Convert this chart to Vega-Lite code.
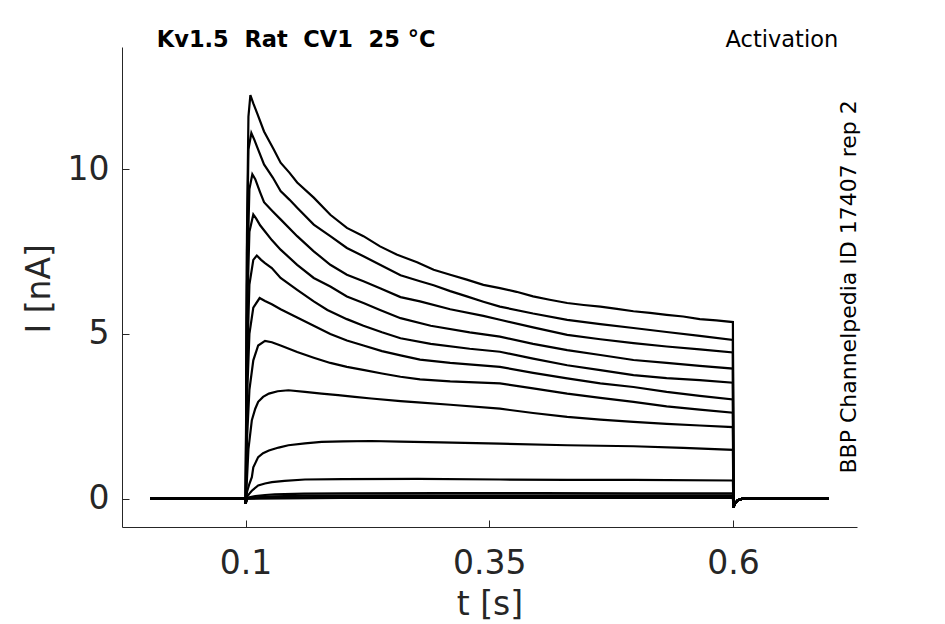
{
  "$schema": "https://vega.github.io/schema/vega-lite/v6.json",
  "width": 735,
  "height": 480,
  "autosize": {"type": "none"},
  "padding": {"left": 122, "top": 47, "right": 88, "bottom": 97},
  "background": "white",
  "config": {"view": {"stroke": null}, "font": "DejaVu Sans"},
  "resolve": {"axis": {"x": "independent", "y": "independent"}},
  "layer": [
    {
      "data": {
        "values": [
          {"trace": 1, "t": 0.002, "i": 0}, {"trace": 1, "t": 0.0996, "i": 0}, {"trace": 1, "t": 0.1002, "i": -0.15},
          {"trace": 1, "t": 0.1015, "i": 8.0}, {"trace": 1, "t": 0.103, "i": 11.6}, {"trace": 1, "t": 0.105, "i": 12.25},
          {"trace": 1, "t": 0.108, "i": 12.0}, {"trace": 1, "t": 0.112, "i": 11.7}, {"trace": 1, "t": 0.119, "i": 11.15},
          {"trace": 1, "t": 0.129, "i": 10.6}, {"trace": 1, "t": 0.136, "i": 10.2}, {"trace": 1, "t": 0.145, "i": 9.9},
          {"trace": 1, "t": 0.153, "i": 9.6}, {"trace": 1, "t": 0.17, "i": 9.14}, {"trace": 1, "t": 0.187, "i": 8.62},
          {"trace": 1, "t": 0.204, "i": 8.22}, {"trace": 1, "t": 0.221, "i": 7.97}, {"trace": 1, "t": 0.238, "i": 7.66},
          {"trace": 1, "t": 0.255, "i": 7.41}, {"trace": 1, "t": 0.276, "i": 7.18}, {"trace": 1, "t": 0.293, "i": 6.95},
          {"trace": 1, "t": 0.31, "i": 6.8}, {"trace": 1, "t": 0.327, "i": 6.65}, {"trace": 1, "t": 0.344, "i": 6.49},
          {"trace": 1, "t": 0.361, "i": 6.39}, {"trace": 1, "t": 0.378, "i": 6.28}, {"trace": 1, "t": 0.395, "i": 6.14},
          {"trace": 1, "t": 0.412, "i": 6.04}, {"trace": 1, "t": 0.43, "i": 5.94}, {"trace": 1, "t": 0.447, "i": 5.88},
          {"trace": 1, "t": 0.464, "i": 5.83}, {"trace": 1, "t": 0.481, "i": 5.76}, {"trace": 1, "t": 0.498, "i": 5.69},
          {"trace": 1, "t": 0.515, "i": 5.64}, {"trace": 1, "t": 0.532, "i": 5.58}, {"trace": 1, "t": 0.549, "i": 5.53},
          {"trace": 1, "t": 0.566, "i": 5.45}, {"trace": 1, "t": 0.583, "i": 5.41}, {"trace": 1, "t": 0.6, "i": 5.36},
          {"trace": 1, "t": 0.6005, "i": -0.27}, {"trace": 1, "t": 0.602, "i": -0.15}, {"trace": 1, "t": 0.605, "i": -0.05},
          {"trace": 1, "t": 0.61, "i": 0}, {"trace": 1, "t": 0.698, "i": 0},

          {"trace": 2, "t": 0.002, "i": 0}, {"trace": 2, "t": 0.0996, "i": 0}, {"trace": 2, "t": 0.1002, "i": -0.15},
          {"trace": 2, "t": 0.1015, "i": 7.5}, {"trace": 2, "t": 0.103, "i": 10.6}, {"trace": 2, "t": 0.106, "i": 11.1},
          {"trace": 2, "t": 0.109, "i": 10.9}, {"trace": 2, "t": 0.113, "i": 10.6}, {"trace": 2, "t": 0.119, "i": 10.15},
          {"trace": 2, "t": 0.128, "i": 9.75}, {"trace": 2, "t": 0.136, "i": 9.34}, {"trace": 2, "t": 0.145, "i": 9.08},
          {"trace": 2, "t": 0.153, "i": 8.83}, {"trace": 2, "t": 0.17, "i": 8.32}, {"trace": 2, "t": 0.187, "i": 7.97},
          {"trace": 2, "t": 0.204, "i": 7.61}, {"trace": 2, "t": 0.221, "i": 7.36}, {"trace": 2, "t": 0.238, "i": 7.1},
          {"trace": 2, "t": 0.259, "i": 6.78}, {"trace": 2, "t": 0.279, "i": 6.6}, {"trace": 2, "t": 0.293, "i": 6.48},
          {"trace": 2, "t": 0.31, "i": 6.3}, {"trace": 2, "t": 0.327, "i": 6.14}, {"trace": 2, "t": 0.344, "i": 5.98},
          {"trace": 2, "t": 0.361, "i": 5.83}, {"trace": 2, "t": 0.395, "i": 5.62}, {"trace": 2, "t": 0.43, "i": 5.43},
          {"trace": 2, "t": 0.464, "i": 5.3}, {"trace": 2, "t": 0.498, "i": 5.18}, {"trace": 2, "t": 0.532, "i": 5.06},
          {"trace": 2, "t": 0.566, "i": 4.94}, {"trace": 2, "t": 0.6, "i": 4.82},
          {"trace": 2, "t": 0.6005, "i": -0.27}, {"trace": 2, "t": 0.602, "i": -0.15}, {"trace": 2, "t": 0.605, "i": -0.05},
          {"trace": 2, "t": 0.61, "i": 0}, {"trace": 2, "t": 0.698, "i": 0},

          {"trace": 3, "t": 0.002, "i": 0}, {"trace": 3, "t": 0.0996, "i": 0}, {"trace": 3, "t": 0.1002, "i": -0.15},
          {"trace": 3, "t": 0.1015, "i": 6.5}, {"trace": 3, "t": 0.104, "i": 9.4}, {"trace": 3, "t": 0.107, "i": 9.85},
          {"trace": 3, "t": 0.11, "i": 9.7}, {"trace": 3, "t": 0.115, "i": 9.3}, {"trace": 3, "t": 0.119, "i": 9.0},
          {"trace": 3, "t": 0.127, "i": 8.75}, {"trace": 3, "t": 0.136, "i": 8.48}, {"trace": 3, "t": 0.153, "i": 7.97},
          {"trace": 3, "t": 0.17, "i": 7.51}, {"trace": 3, "t": 0.187, "i": 7.1}, {"trace": 3, "t": 0.204, "i": 6.8},
          {"trace": 3, "t": 0.221, "i": 6.6}, {"trace": 3, "t": 0.238, "i": 6.39}, {"trace": 3, "t": 0.259, "i": 6.12},
          {"trace": 3, "t": 0.279, "i": 5.99}, {"trace": 3, "t": 0.31, "i": 5.75}, {"trace": 3, "t": 0.344, "i": 5.55},
          {"trace": 3, "t": 0.361, "i": 5.43}, {"trace": 3, "t": 0.395, "i": 5.2}, {"trace": 3, "t": 0.43, "i": 4.97},
          {"trace": 3, "t": 0.464, "i": 4.84}, {"trace": 3, "t": 0.498, "i": 4.72}, {"trace": 3, "t": 0.532, "i": 4.62},
          {"trace": 3, "t": 0.566, "i": 4.53}, {"trace": 3, "t": 0.6, "i": 4.44},
          {"trace": 3, "t": 0.6005, "i": -0.27}, {"trace": 3, "t": 0.602, "i": -0.15}, {"trace": 3, "t": 0.605, "i": -0.05},
          {"trace": 3, "t": 0.61, "i": 0}, {"trace": 3, "t": 0.698, "i": 0},

          {"trace": 4, "t": 0.002, "i": 0}, {"trace": 4, "t": 0.0996, "i": 0}, {"trace": 4, "t": 0.1002, "i": -0.15},
          {"trace": 4, "t": 0.1015, "i": 5.5}, {"trace": 4, "t": 0.104, "i": 8.1}, {"trace": 4, "t": 0.108, "i": 8.63},
          {"trace": 4, "t": 0.111, "i": 8.5}, {"trace": 4, "t": 0.115, "i": 8.3}, {"trace": 4, "t": 0.119, "i": 8.15},
          {"trace": 4, "t": 0.127, "i": 7.85}, {"trace": 4, "t": 0.136, "i": 7.56}, {"trace": 4, "t": 0.153, "i": 7.1},
          {"trace": 4, "t": 0.17, "i": 6.7}, {"trace": 4, "t": 0.187, "i": 6.44}, {"trace": 4, "t": 0.204, "i": 6.14},
          {"trace": 4, "t": 0.221, "i": 5.94}, {"trace": 4, "t": 0.238, "i": 5.73}, {"trace": 4, "t": 0.259, "i": 5.48},
          {"trace": 4, "t": 0.29, "i": 5.25}, {"trace": 4, "t": 0.33, "i": 5.05}, {"trace": 4, "t": 0.361, "i": 4.92},
          {"trace": 4, "t": 0.395, "i": 4.7}, {"trace": 4, "t": 0.43, "i": 4.51}, {"trace": 4, "t": 0.464, "i": 4.36},
          {"trace": 4, "t": 0.498, "i": 4.21}, {"trace": 4, "t": 0.532, "i": 4.12}, {"trace": 4, "t": 0.566, "i": 4.03},
          {"trace": 4, "t": 0.6, "i": 3.95},
          {"trace": 4, "t": 0.6005, "i": -0.27}, {"trace": 4, "t": 0.602, "i": -0.15}, {"trace": 4, "t": 0.605, "i": -0.05},
          {"trace": 4, "t": 0.61, "i": 0}, {"trace": 4, "t": 0.698, "i": 0},

          {"trace": 5, "t": 0.002, "i": 0}, {"trace": 5, "t": 0.0996, "i": 0}, {"trace": 5, "t": 0.1002, "i": -0.15},
          {"trace": 5, "t": 0.1015, "i": 4.0}, {"trace": 5, "t": 0.104, "i": 6.5}, {"trace": 5, "t": 0.108, "i": 7.25},
          {"trace": 5, "t": 0.1116, "i": 7.38}, {"trace": 5, "t": 0.116, "i": 7.25}, {"trace": 5, "t": 0.12, "i": 7.15},
          {"trace": 5, "t": 0.127, "i": 7.0}, {"trace": 5, "t": 0.136, "i": 6.7}, {"trace": 5, "t": 0.153, "i": 6.34},
          {"trace": 5, "t": 0.17, "i": 5.99}, {"trace": 5, "t": 0.184, "i": 5.73}, {"trace": 5, "t": 0.204, "i": 5.45},
          {"trace": 5, "t": 0.221, "i": 5.25}, {"trace": 5, "t": 0.24, "i": 5.05}, {"trace": 5, "t": 0.259, "i": 4.87},
          {"trace": 5, "t": 0.29, "i": 4.7}, {"trace": 5, "t": 0.33, "i": 4.55}, {"trace": 5, "t": 0.361, "i": 4.46},
          {"trace": 5, "t": 0.395, "i": 4.25}, {"trace": 5, "t": 0.43, "i": 4.05}, {"trace": 5, "t": 0.464, "i": 3.9},
          {"trace": 5, "t": 0.498, "i": 3.75}, {"trace": 5, "t": 0.532, "i": 3.66}, {"trace": 5, "t": 0.566, "i": 3.6},
          {"trace": 5, "t": 0.6, "i": 3.52},
          {"trace": 5, "t": 0.6005, "i": -0.27}, {"trace": 5, "t": 0.602, "i": -0.15}, {"trace": 5, "t": 0.605, "i": -0.05},
          {"trace": 5, "t": 0.61, "i": 0}, {"trace": 5, "t": 0.698, "i": 0},

          {"trace": 6, "t": 0.002, "i": 0}, {"trace": 6, "t": 0.0996, "i": 0}, {"trace": 6, "t": 0.1002, "i": -0.15},
          {"trace": 6, "t": 0.1015, "i": 3.0}, {"trace": 6, "t": 0.104, "i": 5.0}, {"trace": 6, "t": 0.108, "i": 5.8},
          {"trace": 6, "t": 0.1145, "i": 6.09}, {"trace": 6, "t": 0.12, "i": 6.0}, {"trace": 6, "t": 0.127, "i": 5.9},
          {"trace": 6, "t": 0.136, "i": 5.75}, {"trace": 6, "t": 0.153, "i": 5.5}, {"trace": 6, "t": 0.17, "i": 5.25},
          {"trace": 6, "t": 0.187, "i": 5.0}, {"trace": 6, "t": 0.204, "i": 4.8}, {"trace": 6, "t": 0.221, "i": 4.65},
          {"trace": 6, "t": 0.24, "i": 4.48}, {"trace": 6, "t": 0.259, "i": 4.35}, {"trace": 6, "t": 0.279, "i": 4.22},
          {"trace": 6, "t": 0.31, "i": 4.12}, {"trace": 6, "t": 0.361, "i": 4.0}, {"trace": 6, "t": 0.395, "i": 3.82},
          {"trace": 6, "t": 0.43, "i": 3.65}, {"trace": 6, "t": 0.464, "i": 3.5}, {"trace": 6, "t": 0.498, "i": 3.39},
          {"trace": 6, "t": 0.532, "i": 3.24}, {"trace": 6, "t": 0.566, "i": 3.12}, {"trace": 6, "t": 0.6, "i": 3.01},
          {"trace": 6, "t": 0.6005, "i": -0.27}, {"trace": 6, "t": 0.602, "i": -0.15}, {"trace": 6, "t": 0.605, "i": -0.05},
          {"trace": 6, "t": 0.61, "i": 0}, {"trace": 6, "t": 0.698, "i": 0},

          {"trace": 7, "t": 0.002, "i": 0}, {"trace": 7, "t": 0.0996, "i": 0}, {"trace": 7, "t": 0.1002, "i": -0.15},
          {"trace": 7, "t": 0.1015, "i": 1.8}, {"trace": 7, "t": 0.104, "i": 3.3}, {"trace": 7, "t": 0.108, "i": 4.2},
          {"trace": 7, "t": 0.113, "i": 4.65}, {"trace": 7, "t": 0.12, "i": 4.79}, {"trace": 7, "t": 0.127, "i": 4.75},
          {"trace": 7, "t": 0.136, "i": 4.65}, {"trace": 7, "t": 0.153, "i": 4.45}, {"trace": 7, "t": 0.17, "i": 4.28},
          {"trace": 7, "t": 0.187, "i": 4.12}, {"trace": 7, "t": 0.204, "i": 4.0}, {"trace": 7, "t": 0.222, "i": 3.9},
          {"trace": 7, "t": 0.24, "i": 3.8}, {"trace": 7, "t": 0.259, "i": 3.7}, {"trace": 7, "t": 0.279, "i": 3.62},
          {"trace": 7, "t": 0.31, "i": 3.56}, {"trace": 7, "t": 0.361, "i": 3.5}, {"trace": 7, "t": 0.395, "i": 3.35},
          {"trace": 7, "t": 0.43, "i": 3.19}, {"trace": 7, "t": 0.464, "i": 3.06}, {"trace": 7, "t": 0.498, "i": 2.94},
          {"trace": 7, "t": 0.532, "i": 2.8}, {"trace": 7, "t": 0.566, "i": 2.7}, {"trace": 7, "t": 0.6, "i": 2.61},
          {"trace": 7, "t": 0.6005, "i": -0.27}, {"trace": 7, "t": 0.602, "i": -0.15}, {"trace": 7, "t": 0.605, "i": -0.05},
          {"trace": 7, "t": 0.61, "i": 0}, {"trace": 7, "t": 0.698, "i": 0},

          {"trace": 8, "t": 0.002, "i": 0}, {"trace": 8, "t": 0.0996, "i": 0}, {"trace": 8, "t": 0.1002, "i": -0.15},
          {"trace": 8, "t": 0.1015, "i": 0.6}, {"trace": 8, "t": 0.103, "i": 1.5}, {"trace": 8, "t": 0.1065, "i": 2.38},
          {"trace": 8, "t": 0.11, "i": 2.73}, {"trace": 8, "t": 0.113, "i": 2.94}, {"trace": 8, "t": 0.118, "i": 3.09},
          {"trace": 8, "t": 0.124, "i": 3.19}, {"trace": 8, "t": 0.133, "i": 3.26}, {"trace": 8, "t": 0.144, "i": 3.29},
          {"trace": 8, "t": 0.161, "i": 3.24}, {"trace": 8, "t": 0.178, "i": 3.19}, {"trace": 8, "t": 0.195, "i": 3.14},
          {"trace": 8, "t": 0.212, "i": 3.09}, {"trace": 8, "t": 0.229, "i": 3.04}, {"trace": 8, "t": 0.259, "i": 2.96},
          {"trace": 8, "t": 0.277, "i": 2.92}, {"trace": 8, "t": 0.31, "i": 2.85}, {"trace": 8, "t": 0.361, "i": 2.73},
          {"trace": 8, "t": 0.395, "i": 2.6}, {"trace": 8, "t": 0.43, "i": 2.48}, {"trace": 8, "t": 0.464, "i": 2.4},
          {"trace": 8, "t": 0.498, "i": 2.33}, {"trace": 8, "t": 0.532, "i": 2.27}, {"trace": 8, "t": 0.566, "i": 2.22},
          {"trace": 8, "t": 0.6, "i": 2.17},
          {"trace": 8, "t": 0.6005, "i": -0.27}, {"trace": 8, "t": 0.602, "i": -0.15}, {"trace": 8, "t": 0.605, "i": -0.05},
          {"trace": 8, "t": 0.61, "i": 0}, {"trace": 8, "t": 0.698, "i": 0},

          {"trace": 9, "t": 0.002, "i": 0}, {"trace": 9, "t": 0.0996, "i": 0}, {"trace": 9, "t": 0.1002, "i": -0.15},
          {"trace": 9, "t": 0.1015, "i": 0.2}, {"trace": 9, "t": 0.104, "i": 0.45}, {"trace": 9, "t": 0.1065, "i": 0.65},
          {"trace": 9, "t": 0.108, "i": 0.95}, {"trace": 9, "t": 0.113, "i": 1.26}, {"trace": 9, "t": 0.118, "i": 1.38},
          {"trace": 9, "t": 0.124, "i": 1.46}, {"trace": 9, "t": 0.134, "i": 1.55}, {"trace": 9, "t": 0.144, "i": 1.62},
          {"trace": 9, "t": 0.161, "i": 1.68}, {"trace": 9, "t": 0.178, "i": 1.72}, {"trace": 9, "t": 0.2, "i": 1.74},
          {"trace": 9, "t": 0.229, "i": 1.75}, {"trace": 9, "t": 0.259, "i": 1.73}, {"trace": 9, "t": 0.3, "i": 1.71},
          {"trace": 9, "t": 0.361, "i": 1.67}, {"trace": 9, "t": 0.43, "i": 1.62}, {"trace": 9, "t": 0.498, "i": 1.59},
          {"trace": 9, "t": 0.549, "i": 1.54}, {"trace": 9, "t": 0.6, "i": 1.48},
          {"trace": 9, "t": 0.6005, "i": -0.27}, {"trace": 9, "t": 0.602, "i": -0.15}, {"trace": 9, "t": 0.605, "i": -0.05},
          {"trace": 9, "t": 0.61, "i": 0}, {"trace": 9, "t": 0.698, "i": 0},

          {"trace": 10, "t": 0.002, "i": 0}, {"trace": 10, "t": 0.0996, "i": 0}, {"trace": 10, "t": 0.1002, "i": -0.15},
          {"trace": 10, "t": 0.1015, "i": 0.05}, {"trace": 10, "t": 0.104, "i": 0.15}, {"trace": 10, "t": 0.1065, "i": 0.24},
          {"trace": 10, "t": 0.113, "i": 0.4}, {"trace": 10, "t": 0.12, "i": 0.46}, {"trace": 10, "t": 0.127, "i": 0.5},
          {"trace": 10, "t": 0.14, "i": 0.54}, {"trace": 10, "t": 0.161, "i": 0.58}, {"trace": 10, "t": 0.2, "i": 0.59},
          {"trace": 10, "t": 0.277, "i": 0.6}, {"trace": 10, "t": 0.361, "i": 0.58}, {"trace": 10, "t": 0.43, "i": 0.57},
          {"trace": 10, "t": 0.498, "i": 0.57}, {"trace": 10, "t": 0.6, "i": 0.55},
          {"trace": 10, "t": 0.6005, "i": -0.27}, {"trace": 10, "t": 0.602, "i": -0.15}, {"trace": 10, "t": 0.605, "i": -0.05},
          {"trace": 10, "t": 0.61, "i": 0}, {"trace": 10, "t": 0.698, "i": 0},

          {"trace": 11, "t": 0.002, "i": 0}, {"trace": 11, "t": 0.0996, "i": 0}, {"trace": 11, "t": 0.1002, "i": -0.15},
          {"trace": 11, "t": 0.1015, "i": 0.02}, {"trace": 11, "t": 0.105, "i": 0.05}, {"trace": 11, "t": 0.11, "i": 0.08},
          {"trace": 11, "t": 0.12, "i": 0.11}, {"trace": 11, "t": 0.13, "i": 0.13}, {"trace": 11, "t": 0.16, "i": 0.15},
          {"trace": 11, "t": 0.2, "i": 0.16}, {"trace": 11, "t": 0.3, "i": 0.17}, {"trace": 11, "t": 0.4, "i": 0.17},
          {"trace": 11, "t": 0.5, "i": 0.16}, {"trace": 11, "t": 0.6, "i": 0.16},
          {"trace": 11, "t": 0.6005, "i": -0.27}, {"trace": 11, "t": 0.602, "i": -0.15}, {"trace": 11, "t": 0.605, "i": -0.05},
          {"trace": 11, "t": 0.61, "i": 0}, {"trace": 11, "t": 0.698, "i": 0},

          {"trace": 12, "t": 0.002, "i": 0}, {"trace": 12, "t": 0.0996, "i": 0}, {"trace": 12, "t": 0.1002, "i": -0.15},
          {"trace": 12, "t": 0.1015, "i": 0.01}, {"trace": 12, "t": 0.11, "i": 0.04}, {"trace": 12, "t": 0.13, "i": 0.07},
          {"trace": 12, "t": 0.16, "i": 0.09}, {"trace": 12, "t": 0.25, "i": 0.1}, {"trace": 12, "t": 0.4, "i": 0.1},
          {"trace": 12, "t": 0.6, "i": 0.1},
          {"trace": 12, "t": 0.6005, "i": -0.27}, {"trace": 12, "t": 0.602, "i": -0.15}, {"trace": 12, "t": 0.605, "i": -0.05},
          {"trace": 12, "t": 0.61, "i": 0}, {"trace": 12, "t": 0.698, "i": 0},

          {"trace": 13, "t": 0.002, "i": 0}, {"trace": 13, "t": 0.0996, "i": 0}, {"trace": 13, "t": 0.1002, "i": -0.15},
          {"trace": 13, "t": 0.1015, "i": 0}, {"trace": 13, "t": 0.12, "i": 0.03}, {"trace": 13, "t": 0.2, "i": 0.05},
          {"trace": 13, "t": 0.4, "i": 0.05}, {"trace": 13, "t": 0.6, "i": 0.05},
          {"trace": 13, "t": 0.6005, "i": -0.27}, {"trace": 13, "t": 0.602, "i": -0.15}, {"trace": 13, "t": 0.605, "i": -0.05},
          {"trace": 13, "t": 0.61, "i": 0}, {"trace": 13, "t": 0.698, "i": 0},

          {"trace": 14, "t": 0.002, "i": 0}, {"trace": 14, "t": 0.0996, "i": 0}, {"trace": 14, "t": 0.1002, "i": -0.15},
          {"trace": 14, "t": 0.1015, "i": 0}, {"trace": 14, "t": 0.2, "i": 0.02}, {"trace": 14, "t": 0.6, "i": 0.02},
          {"trace": 14, "t": 0.6005, "i": -0.27}, {"trace": 14, "t": 0.602, "i": -0.15}, {"trace": 14, "t": 0.605, "i": -0.05},
          {"trace": 14, "t": 0.61, "i": 0}, {"trace": 14, "t": 0.698, "i": 0}
        ]
      },
      "mark": {"type": "line", "color": "black", "strokeWidth": 2.2},
      "encoding": {
        "x": {
          "field": "t",
          "type": "quantitative",
          "scale": {"domain": [-0.0267, 0.7273], "nice": false, "zero": false},
          "axis": {
            "title": "t [s]",
            "values": [0.1, 0.35, 0.6],
            "format": ".2~f",
            "grid": false,
            "domainColor": "#262626",
            "tickColor": "#262626",
            "tickSize": -7,
            "labelFontSize": 33,
            "labelColor": "#262626",
            "labelPadding": 27,
            "labelFlush": false,
            "labelOverlap": false,
            "titleFontSize": 33,
            "titleFontWeight": "normal",
            "titleColor": "#262626",
            "titleX": 367.5,
            "titleY": 87,
            "titleAlign": "center",
            "titleBaseline": "alphabetic"
          }
        },
        "y": {
          "field": "i",
          "type": "quantitative",
          "scale": {"domain": [-0.862, 13.714], "nice": false, "zero": false},
          "axis": {
            "title": "I [nA]",
            "values": [0, 5, 10],
            "format": "d",
            "grid": false,
            "domainColor": "#262626",
            "tickColor": "#262626",
            "tickSize": -7,
            "labelFontSize": 33,
            "labelColor": "#262626",
            "labelPadding": 20,
            "labelOverlap": false,
            "titleFontSize": 33,
            "titleFontWeight": "normal",
            "titleColor": "#262626",
            "titleAngle": 270,
            "titleX": -72.7,
            "titleY": 241.3,
            "titleAlign": "center",
            "titleBaseline": "alphabetic"
          }
        },
        "detail": {"field": "trace", "type": "nominal"}
      }
    },
    {
      "data": {"values": [{"note": "Kv1.5\u00a0\u00a0Rat\u00a0\u00a0CV1\u00a0\u00a025\u00a0°C"}]},
      "mark": {"type": "text", "align": "left", "baseline": "alphabetic", "fontSize": 22.5, "fontWeight": "bold", "color": "black"},
      "encoding": {
        "text": {"field": "note"},
        "x": {"datum": 0.009, "type": "quantitative", "axis": null},
        "y": {"datum": 13.714, "type": "quantitative", "axis": null}
      }
    },
    {
      "data": {"values": [{"note": "Activation"}]},
      "mark": {"type": "text", "align": "right", "baseline": "alphabetic", "fontSize": 22.5, "color": "black"},
      "encoding": {
        "text": {"field": "note"},
        "x": {"datum": 0.708, "type": "quantitative", "axis": null},
        "y": {"datum": 13.714, "type": "quantitative", "axis": null}
      }
    },
    {
      "data": {"values": [{"note": "BBP Channelpedia ID 17407 rep 2"}]},
      "mark": {"type": "text", "align": "center", "baseline": "alphabetic", "angle": 270, "fontSize": 22, "color": "black"},
      "encoding": {
        "text": {"field": "note"},
        "x": {"datum": 0.7265, "type": "quantitative", "axis": null},
        "y": {"datum": 6.43, "type": "quantitative", "axis": null}
      }
    }
  ]
}
